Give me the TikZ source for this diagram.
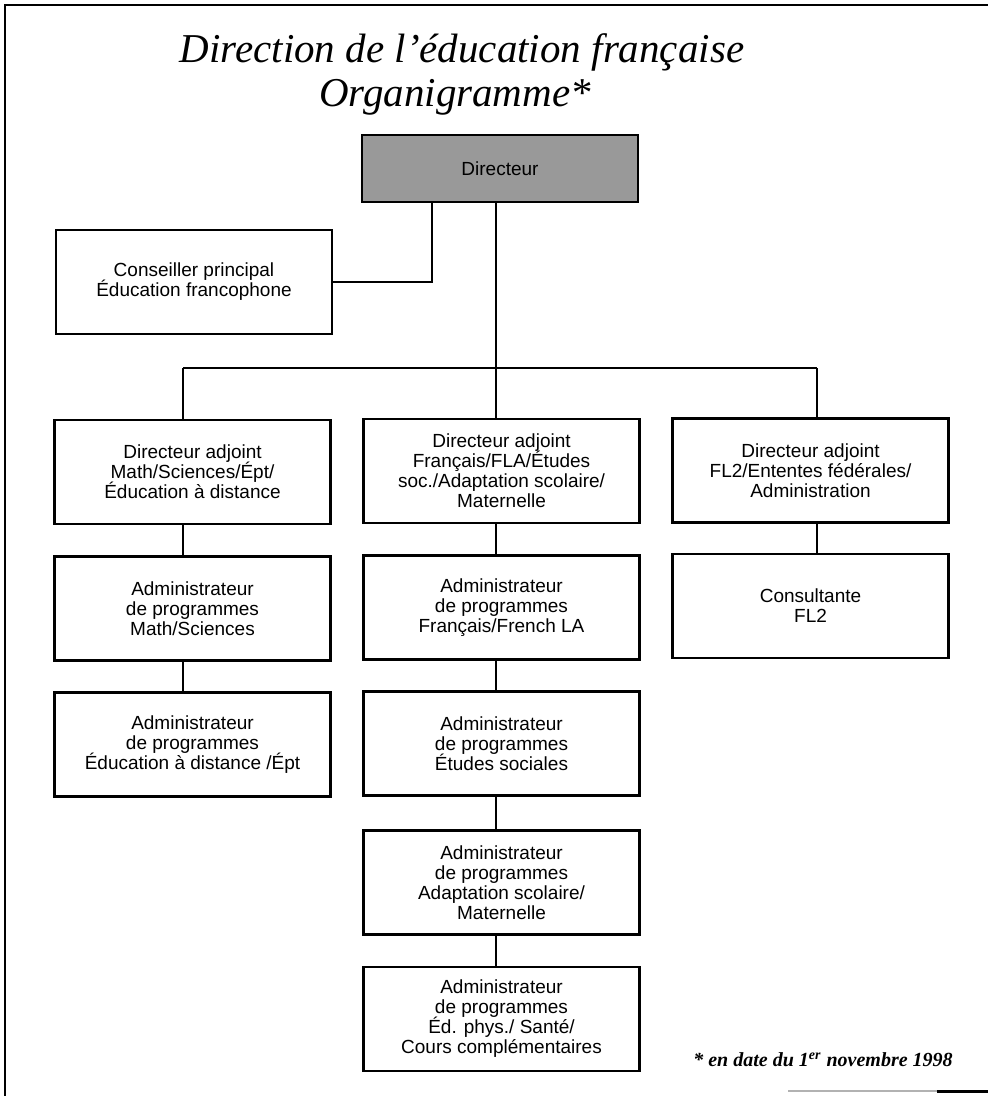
\documentclass[tikz,border=0pt]{standalone}
\usepackage{fontspec}
\setmainfont{Liberation Serif}
\setsansfont{Liberation Sans}

\begin{document}
\begin{tikzpicture}[x=0.5pt,y=-0.5pt,
  box/.style={draw,line width=1.2pt,minimum width=138pt,minimum height=52pt,inner sep=0pt,align=center,font={\sffamily\fontsize{9.5}{10}\selectfont\lineskiplimit=-5pt\relax}},
  dirbox/.style={box,minimum height=33.5pt,fill=black!40},
  link/.style={line width=1.3pt},
  titre/.style={font=\itshape\fontsize{20.5}{24}\selectfont},
  note/.style={font=\bfseries\itshape\fontsize{10}{12}\selectfont}]
\useasboundingbox (0,0) rectangle (988,1096);
\draw[line width=1pt] (5,1096) -- (5,5) -- (988,5);
\draw[line width=1pt,gray!60] (788,1091) -- (937,1091);
\draw[line width=1.5pt] (937,1091) -- (988,1091);
\node[titre] at (462,52) (t1) {Direction de l'éducation française};
\node[titre] at (455,97) (t2) {Organigramme*};
\node[dirbox] at (500,168.5) (dir) {Directeur};
\node[box] at (194,282) (cons) {Conseiller principal\\Éducation francophone};
\node[box] at (192.5,472) (adj1) {Directeur adjoint\\Math/Sciences/Épt/\\Éducation à distance};
\node[box] at (501.5,471) (adj2) {Directeur adjoint\\Français/FLA/Études\\soc./Adaptation scolaire/\\Maternelle};
\node[box] at (810.5,470.5) (adj3) {Directeur adjoint\\FL2/Ententes fédérales/\\Administration};
\node[box] at (192.5,608.5) (math) {Administrateur\\de programmes\\Math/Sciences};
\node[box] at (501.5,607.5) (fran) {Administrateur\\de programmes\\Français/French LA};
\node[box] at (810.5,606) (fl2) {Consultante\\FL2};
\node[box] at (192.5,744.5) (dist) {Administrateur\\de programmes\\Éducation à distance /Épt};
\node[box] at (501.5,743.5) (soc) {Administrateur\\de programmes\\Études sociales};
\node[box] at (501.5,882.5) (adapt) {Administrateur\\de programmes\\Adaptation scolaire/\\Maternelle};
\node[box] at (501.5,1019) (sante) {Administrateur\\de programmes\\Éd. phys./ Santé/\\Cours complémentaires};
\node[note] at (823,1060) (date) {* en date du 1\textsuperscript{er} novembre 1998};
\coordinate (k) at (432,282);
\coordinate (c1) at (183,368);
\coordinate (tr) at (496,368);
\coordinate (c3) at (817,368);
\draw[link] (k |- dir.south) -- (k) -- (cons.east);
\draw[link] (tr |- dir.south) -- (tr);
\draw[link] (c1) -- (c3);
\draw[link] (c1) -- (c1 |- adj1.north);
\draw[link] (tr) -- (tr |- adj2.north);
\draw[link] (c3) -- (c3 |- adj3.north);
\draw[link] (c1 |- adj1.south) -- (c1 |- math.north);
\draw[link] (c1 |- math.south) -- (c1 |- dist.north);
\draw[link] (tr |- adj2.south) -- (tr |- fran.north);
\draw[link] (tr |- fran.south) -- (tr |- soc.north);
\draw[link] (tr |- soc.south) -- (tr |- adapt.north);
\draw[link] (tr |- adapt.south) -- (tr |- sante.north);
\draw[link] (c3 |- adj3.south) -- (c3 |- fl2.north);
\end{tikzpicture}
\end{document}
